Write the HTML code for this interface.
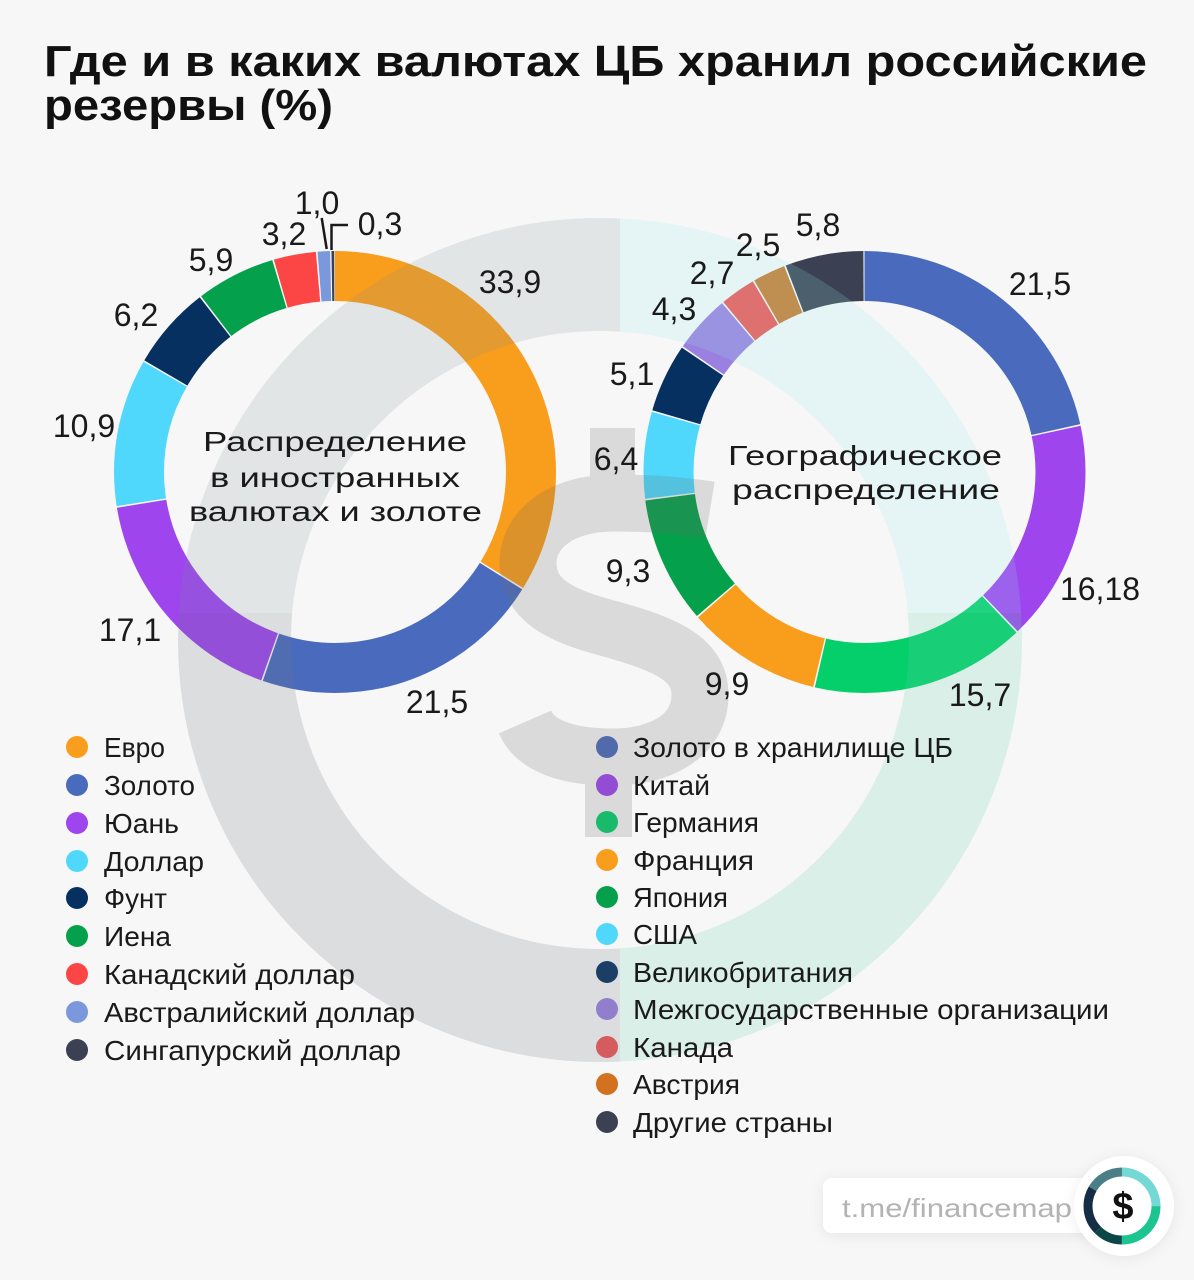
<!DOCTYPE html>
<html lang="ru">
<head>
<meta charset="utf-8">
<style>
  html,body{margin:0;padding:0;background:#f7f7f7;}
  svg{display:block;}
  text{font-family:"Liberation Sans",sans-serif;}
</style>
</head>
<body>
<svg width="1194" height="1280" viewBox="0 0 1194 1280" xmlns="http://www.w3.org/2000/svg">
  <defs>
    <clipPath id="cTL"><rect x="0" y="0" width="620" height="613"/></clipPath>
    <clipPath id="cTR"><rect x="620" y="0" width="574" height="613"/></clipPath>
    <clipPath id="cBR"><rect x="620" y="613" width="574" height="667"/></clipPath>
    <clipPath id="cBL"><rect x="0" y="613" width="620" height="667"/></clipPath>
    <filter id="sh" x="-30%" y="-60%" width="160%" height="220%">
      <feDropShadow dx="0" dy="2" stdDeviation="7" flood-color="#000" flood-opacity="0.07"/>
    </filter>
  </defs>

  <rect width="1194" height="1280" fill="#f7f7f7"/>

  <!-- Title -->
  <text x="44" y="76" font-size="44" font-weight="700" fill="#111" textLength="1103" lengthAdjust="spacingAndGlyphs">Где и в каких валютах ЦБ хранил российские</text>
  <text x="44" y="120" font-size="44" font-weight="700" fill="#111" textLength="289" lengthAdjust="spacingAndGlyphs">резервы (%)</text>

  <!-- Left donut -->
  <g transform="rotate(-90 335 472)" fill="none" stroke-width="50">
    <circle cx="335" cy="472" r="196" stroke="#f99d1c" stroke-dasharray="415.98 2000" stroke-dashoffset="0"/>
    <circle cx="335" cy="472" r="196" stroke="#4a6bbd" stroke-dasharray="263.27 2000" stroke-dashoffset="-417.48"/>
    <circle cx="335" cy="472" r="196" stroke="#9e45ee" stroke-dasharray="209.09 2000" stroke-dashoffset="-682.25"/>
    <circle cx="335" cy="472" r="196" stroke="#4fd8fc" stroke-dasharray="132.73 2000" stroke-dashoffset="-892.84"/>
    <circle cx="335" cy="472" r="196" stroke="#06305f" stroke-dasharray="74.85 2000" stroke-dashoffset="-1027.07"/>
    <circle cx="335" cy="472" r="196" stroke="#05a04b" stroke-dasharray="71.16 2000" stroke-dashoffset="-1103.42"/>
    <circle cx="335" cy="472" r="196" stroke="#fc4545" stroke-dasharray="37.91 2000" stroke-dashoffset="-1176.08"/>
    <circle cx="335" cy="472" r="196" stroke="#7c98dc" stroke-dasharray="11.1 2000" stroke-dashoffset="-1215.49"/>
    <circle cx="335" cy="472" r="196" stroke="#3b4152" stroke-dasharray="2.5 2000" stroke-dashoffset="-1227.81"/>
  </g>

  <!-- Right donut -->
  <g transform="rotate(-90 864.5 472)" fill="none" stroke-width="50">
    <circle cx="864.5" cy="472" r="196" stroke="#4a6bbd" stroke-dasharray="264.92 2000" stroke-dashoffset="0"/>
    <circle cx="864.5" cy="472" r="196" stroke="#9e45ee" stroke-dasharray="199.0 2000" stroke-dashoffset="-266.42"/>
    <circle cx="864.5" cy="472" r="196" stroke="#05cf6b" stroke-dasharray="193.05 2000" stroke-dashoffset="-466.92"/>
    <circle cx="864.5" cy="472" r="196" stroke="#f99d1c" stroke-dasharray="121.18 2000" stroke-dashoffset="-661.47"/>
    <circle cx="864.5" cy="472" r="196" stroke="#05a04b" stroke-dasharray="113.74 2000" stroke-dashoffset="-784.15"/>
    <circle cx="864.5" cy="472" r="196" stroke="#4fd8fc" stroke-dasharray="77.81 2000" stroke-dashoffset="-899.39"/>
    <circle cx="864.5" cy="472" r="196" stroke="#06305f" stroke-dasharray="61.70 2000" stroke-dashoffset="-978.70"/>
    <circle cx="864.5" cy="472" r="196" stroke="#9a80e0" stroke-dasharray="51.78 2000" stroke-dashoffset="-1041.90"/>
    <circle cx="864.5" cy="472" r="196" stroke="#ee5656" stroke-dasharray="31.96 2000" stroke-dashoffset="-1095.18"/>
    <circle cx="864.5" cy="472" r="196" stroke="#c97a30" stroke-dasharray="29.48 2000" stroke-dashoffset="-1128.64"/>
    <circle cx="864.5" cy="472" r="196" stroke="#3b4152" stroke-dasharray="70.37 2000" stroke-dashoffset="-1159.62"/>
  </g>

  <!-- Legend markers (under watermark) -->
  <g>
    <circle cx="77" cy="747" r="11" fill="#f99d1c"/>
    <circle cx="77" cy="785" r="11" fill="#4a6bbd"/>
    <circle cx="77" cy="823" r="11" fill="#9e45ee"/>
    <circle cx="77" cy="861" r="11" fill="#4fd8fc"/>
    <circle cx="77" cy="898" r="11" fill="#06305f"/>
    <circle cx="77" cy="936" r="11" fill="#05a04b"/>
    <circle cx="77" cy="974" r="11" fill="#fc4545"/>
    <circle cx="77" cy="1012" r="11" fill="#7c98dc"/>
    <circle cx="77" cy="1050" r="11" fill="#3b4152"/>

    <circle cx="607" cy="747" r="11" fill="#4a6bbd"/>
    <circle cx="607" cy="785" r="11" fill="#9e45ee"/>
    <circle cx="607" cy="822" r="11" fill="#05cf6b"/>
    <circle cx="607" cy="860" r="11" fill="#f99d1c"/>
    <circle cx="607" cy="897" r="11" fill="#05a04b"/>
    <circle cx="607" cy="934" r="11" fill="#4fd8fc"/>
    <circle cx="607" cy="972" r="11" fill="#06305f"/>
    <circle cx="607" cy="1009" r="11" fill="#9a80e0"/>
    <circle cx="607" cy="1047" r="11" fill="#ee5656"/>
    <circle cx="607" cy="1084" r="11" fill="#d2721f"/>
    <circle cx="607" cy="1122" r="11" fill="#3b4152"/>
  </g>

  <!-- Watermark ring -->
  <g fill="none" stroke-width="113">
    <circle cx="600" cy="640" r="365.5" stroke="rgba(120,140,150,0.17)" clip-path="url(#cTL)"/>
    <circle cx="600" cy="640" r="365.5" stroke="rgba(150,235,235,0.18)" clip-path="url(#cTR)"/>
    <circle cx="600" cy="640" r="365.5" stroke="rgba(100,210,170,0.2)" clip-path="url(#cBR)"/>
    <circle cx="600" cy="640" r="365.5" stroke="rgba(110,120,130,0.2)" clip-path="url(#cBL)"/>
  </g>

  <!-- Watermark $ -->
  <g opacity="0.2">
    <rect x="590" y="428" width="45" height="62" fill="#6a6a6a"/>
    <rect x="585" y="760" width="47" height="77" fill="#6a6a6a"/>
    <path d="M710 510 C680 505, 650 503, 614 503 C560 503, 528 530, 528 563 C528 605, 570 618, 614 630 C668 645, 700 660, 700 695 C700 735, 662 757, 612 757 C565 757, 535 745, 525 722" fill="none" stroke="#6a6a6a" stroke-width="57"/>
  </g>

  <!-- Leader lines -->
  <g stroke="#1a1a1a" stroke-width="2.5" fill="none">
    <path d="M321.7 218 L326.7 249"/>
    <path d="M331.5 250 L331.5 225 L348 225"/>
  </g>

  <!-- Left labels -->
  <g font-size="32" fill="#1a1a1a" text-anchor="middle">
    <text x="510" y="293">33,9</text>
    <text x="437" y="713">21,5</text>
    <text x="130" y="641">17,1</text>
    <text x="84" y="437">10,9</text>
    <text x="136" y="326">6,2</text>
    <text x="211" y="271">5,9</text>
    <text x="284" y="245">3,2</text>
    <text x="317" y="214">1,0</text>
    <text x="380" y="235">0,3</text>
  </g>

  <!-- Right labels -->
  <g font-size="32" fill="#1a1a1a" text-anchor="middle">
    <text x="1040" y="295">21,5</text>
    <text x="1100" y="600">16,18</text>
    <text x="980" y="706">15,7</text>
    <text x="727" y="695">9,9</text>
    <text x="628" y="582">9,3</text>
    <text x="616" y="470">6,4</text>
    <text x="632" y="385">5,1</text>
    <text x="674" y="320">4,3</text>
    <text x="712" y="284">2,7</text>
    <text x="758" y="256">2,5</text>
    <text x="818" y="236">5,8</text>
  </g>

  <!-- Center texts -->
  <g font-size="28" fill="#1a1a1a">
    <text x="203" y="451" textLength="264" lengthAdjust="spacingAndGlyphs">Распределение</text>
    <text x="210" y="487" textLength="250" lengthAdjust="spacingAndGlyphs">в иностранных</text>
    <text x="189" y="521" textLength="293" lengthAdjust="spacingAndGlyphs">валютах и золоте</text>
    <text x="728" y="465" textLength="274" lengthAdjust="spacingAndGlyphs">Географическое</text>
    <text x="732" y="499" textLength="268" lengthAdjust="spacingAndGlyphs">распределение</text>
  </g>

  <!-- Left legend text -->
  <g font-size="28" fill="#1a1a1a">
    <text x="104" y="757" textLength="61" lengthAdjust="spacingAndGlyphs">Евро</text>
    <text x="104" y="795" textLength="91" lengthAdjust="spacingAndGlyphs">Золото</text>
    <text x="104" y="833" textLength="75" lengthAdjust="spacingAndGlyphs">Юань</text>
    <text x="104" y="871" textLength="100" lengthAdjust="spacingAndGlyphs">Доллар</text>
    <text x="104" y="908" textLength="63" lengthAdjust="spacingAndGlyphs">Фунт</text>
    <text x="104" y="946" textLength="67" lengthAdjust="spacingAndGlyphs">Иена</text>
    <text x="104" y="984" textLength="251" lengthAdjust="spacingAndGlyphs">Канадский доллар</text>
    <text x="104" y="1022" textLength="311" lengthAdjust="spacingAndGlyphs">Австралийский доллар</text>
    <text x="104" y="1060" textLength="297" lengthAdjust="spacingAndGlyphs">Сингапурский доллар</text>
  </g>

  <!-- Right legend text -->
  <g font-size="28" fill="#1a1a1a">
    <text x="633" y="757" textLength="320" lengthAdjust="spacingAndGlyphs">Золото в хранилище ЦБ</text>
    <text x="633" y="795" textLength="77" lengthAdjust="spacingAndGlyphs">Китай</text>
    <text x="633" y="832" textLength="126" lengthAdjust="spacingAndGlyphs">Германия</text>
    <text x="633" y="870" textLength="121" lengthAdjust="spacingAndGlyphs">Франция</text>
    <text x="633" y="907" textLength="95" lengthAdjust="spacingAndGlyphs">Япония</text>
    <text x="633" y="944" textLength="64" lengthAdjust="spacingAndGlyphs">США</text>
    <text x="633" y="982" textLength="220" lengthAdjust="spacingAndGlyphs">Великобритания</text>
    <text x="633" y="1019" textLength="476" lengthAdjust="spacingAndGlyphs">Межгосударственные организации</text>
    <text x="633" y="1057" textLength="100" lengthAdjust="spacingAndGlyphs">Канада</text>
    <text x="633" y="1094" textLength="107" lengthAdjust="spacingAndGlyphs">Австрия</text>
    <text x="633" y="1132" textLength="200" lengthAdjust="spacingAndGlyphs">Другие страны</text>
  </g>

  <!-- Bottom logo -->
  <rect x="823" y="1178" width="270" height="55" rx="9" fill="#ffffff" filter="url(#sh)"/>
  <text x="842" y="1217" font-size="26" fill="#b3b3b3" textLength="230" lengthAdjust="spacingAndGlyphs">t.me/financemap</text>
  <circle cx="1124" cy="1206" r="50" fill="#ffffff" filter="url(#sh)"/>
  <g transform="rotate(-90 1122 1206)" fill="none" stroke-width="9">
    <circle cx="1122" cy="1206" r="34" stroke="#74d9d5" stroke-dasharray="53.41 400" stroke-dashoffset="0"/>
    <circle cx="1122" cy="1206" r="34" stroke="#1cc48f" stroke-dasharray="53.41 400" stroke-dashoffset="-53.41"/>
    <circle cx="1122" cy="1206" r="34" stroke="#0c4747" stroke-dasharray="26.70 400" stroke-dashoffset="-106.81"/>
    <circle cx="1122" cy="1206" r="34" stroke="#152e46" stroke-dasharray="44.51 400" stroke-dashoffset="-133.52"/>
    <circle cx="1122" cy="1206" r="34" stroke="#4b7f88" stroke-dasharray="35.61 400" stroke-dashoffset="-178.03"/>
  </g>
  <text x="1123" y="1219" font-size="38" font-weight="700" fill="#111" text-anchor="middle">$</text>
</svg>
</body>
</html>
